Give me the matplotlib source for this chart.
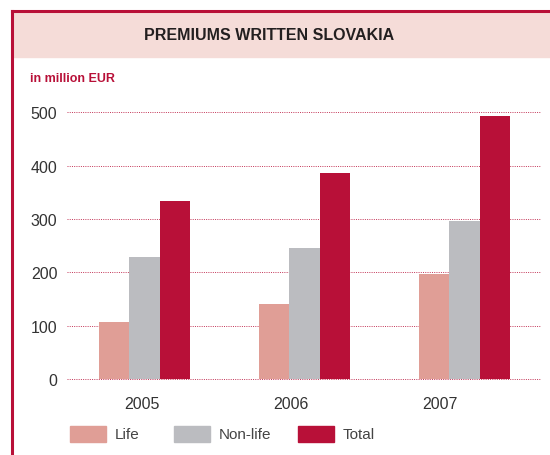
import matplotlib
matplotlib.use("Agg")
from matplotlib import pyplot as plt
import matplotlib.patches as mpatches
from matplotlib.lines import Line2D
import numpy as np

# Dane wykresu
years = ["2005", "2006", "2007"]
life = [107, 141, 197]
non_life = [229, 246, 296]
total = [334, 386, 494]
series_names = ["Life", "Non-life", "Total"]
y_ticks = [0, 100, 200, 300, 400, 500]

colors = ["#e09e96", "#bbbcc0", "#b81038"]
crimson = "#b81038"
font = ["Liberation Sans", "DejaVu Sans"]

W, H = 550, 456
fig = plt.figure(figsize=(W / 100, H / 100), dpi=100)

# Ramka i pasek nagłówka
fig.patches.append(mpatches.Rectangle((13 / W, 1 - 58 / H), 1, 45 / H,
                                      transform=fig.transFigure, color="#f5dcd8", zorder=0))
fig.lines.append(Line2D([12 / W, 12 / W], [0, 1 - 12 / H], transform=fig.transFigure,
                        color=crimson, linewidth=2.2))
fig.lines.append(Line2D([12 / W, 1], [1 - 12 / H, 1 - 12 / H], transform=fig.transFigure,
                        color=crimson, linewidth=2.2))

fig.text(269 / W, 1 - 36 / H, "PREMIUMS WRITTEN SLOVAKIA", ha="center", va="center",
         fontsize=11.5, fontweight="bold", color="#231f20", family=font)
fig.text(30 / W, 1 - 79 / H, "in million EUR", ha="left", va="center",
         fontsize=9, fontweight="bold", color=crimson, family=font)

# Osie
ax = fig.add_axes([67 / W, 1 - 380 / H, 473 / W, 266.7 / H])
x = np.arange(len(years))
bw = 0.19
for k, vals in enumerate([life, non_life, total]):
    ax.bar(x + (k - 1) * bw, vals, width=bw, color=colors[k], zorder=3)

ax.set_xlim(-0.484, 2.472)
ax.set_ylim(0, 500)
ax.set_yticks(y_ticks)
for yv in y_ticks:
    ax.axhline(yv, color=crimson, linestyle=(0, (1, 1.3)), linewidth=0.7, alpha=0.85,
               zorder=1, clip_on=False)

ax.set_xticks(x - np.array([0.018, 0.085, 0.153]))
ax.set_xticklabels(years)
ax.tick_params(axis="both", length=0, labelsize=11.5, colors="#333333")
ax.tick_params(axis="x", pad=12)
ax.tick_params(axis="y", pad=7)
for lab in ax.get_xticklabels() + ax.get_yticklabels():
    lab.set_family(font)
for s in ax.spines.values():
    s.set_visible(False)

# Legenda (ręcznie, żeby trafić w pozycje)
patch_x = [70, 174, 298]
for px, c, name in zip(patch_x, colors, series_names):
    fig.patches.append(mpatches.Rectangle((px / W, 1 - 443 / H), 36 / W, 16 / H,
                                          transform=fig.transFigure, color=c))
    fig.text((px + 45) / W, 1 - 435 / H, name, ha="left", va="center",
             fontsize=11, color="#444444", family=font)

fig.savefig("out.png", dpi=100)
